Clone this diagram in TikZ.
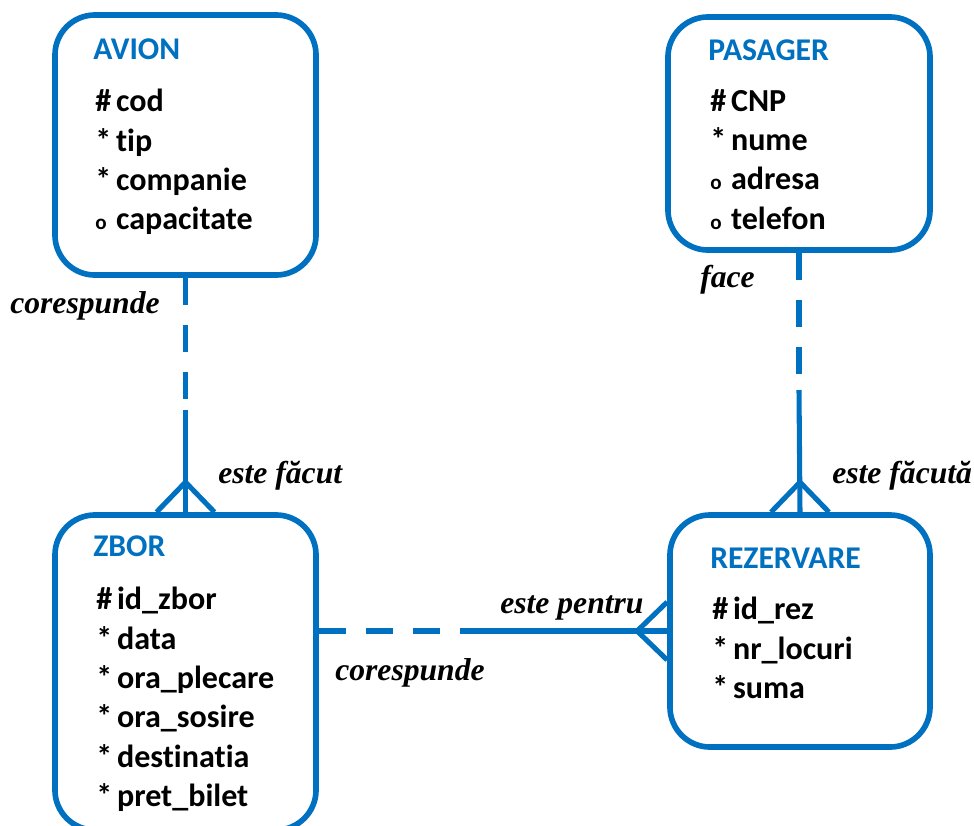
\documentclass[tikz,border=0pt]{standalone}
\usepackage{fontspec}
\setmainfont{Carlito}[Ligatures=NoCommon]
\newfontfamily\labelfont{Liberation Serif}
\usetikzlibrary{calc}
\definecolor{erblue}{HTML}{0070C0}
\newcommand{\mk}[1]{\makebox[0.52cm][l]{#1}}
\newcommand{\optmk}{\mk{{\fontsize{15}{15}\selectfont o}}}

\begin{document}
\begin{tikzpicture}[x=0.025cm, y=-0.025cm,
    entity/.style={draw=erblue, line width=4pt, rounded corners=1cm, inner sep=0pt},
    etitle/.style={anchor=base west, text=erblue, inner sep=0pt, font=\fontsize{22.5}{24}\selectfont\bfseries},
    attrs/.style={anchor=north west, align=left, inner sep=0pt, font=\fontsize{22.8}{28}\selectfont\bfseries},
    rel/.style={erblue, line width=3.6pt},
    optrel/.style={rel, dash pattern=on 0.675cm off 0.5cm},
    rlabel/.style={anchor=base west, inner sep=0pt, font=\fontsize{22.5}{24}\selectfont\labelfont\bfseries\itshape}]
    \useasboundingbox (0,0) rectangle (974,825);

    % entities
    \node[entity, minimum width=6.525cm, minimum height=6.5cm] (avion) at (185.5,145) {};
    \node[etitle] (avion title) at (93,59) {AVION};
    \node[attrs] (avion attrs) at (95,89) {\mk{\#}cod\\\mk{*}tip\\\mk{*}companie\\\optmk capacitate};

    \node[entity, minimum width=6.55cm, minimum height=5.825cm] (pasager) at (799,133.5) {};
    \node[etitle] (pasager title) at (708,60) {PASAGER};
    \node[attrs] (pasager attrs) at (710,89) {\mk{\#}CNP\\\mk{*}nume\\\optmk adresa\\\optmk telefon};

    \node[entity, minimum width=6.525cm, minimum height=7.875cm] (zbor) at (185.5,672.5) {};
    \node[etitle] (zbor title) at (93,556) {ZBOR};
    \node[attrs] (zbor attrs) at (96,587) {\mk{\#}id\_zbor\\\mk{*}data\\\mk{*}ora\_plecare\\\mk{*}ora\_sosire\\\mk{*}destinatia\\\mk{*}pret\_bilet};

    \node[entity, minimum width=6.5cm, minimum height=5.8cm] (rezervare) at (800,631) {};
    \node[etitle] (rezervare title) at (710,568) {REZERVARE};
    \node[attrs] (rezervare attrs) at (712,597) {\mk{\#}id\_rez\\\mk{*}nr\_locuri\\\mk{*}suma};

    % AVION - ZBOR
    \coordinate (m1) at (avion.south |- 0,410);
    \draw[optrel] (avion.south) -- (m1);
    \draw[rel] (m1) -- (zbor.north);
    \draw[rel] ($(zbor.north)+(-29,0)$) -- ($(zbor.north)+(0,-30)$) -- ($(zbor.north)+(29,0)$);
    \node[rlabel] (l1) at (10,313) {corespunde};
    \node[rlabel] (l2) at (218,483) {este făcut};

    % PASAGER - REZERVARE
    \coordinate (m2) at (pasager.south |- 0,390);
    \draw[optrel] (pasager.south) -- (m2);
    \draw[rel] (m2) -- (rezervare.north);
    \draw[rel] ($(rezervare.north)+(-29,0)$) -- ($(rezervare.north)+(0,-30)$) -- ($(rezervare.north)+(29,0)$);
    \node[rlabel] (l3) at (700,287) {face};
    \node[rlabel] (l4) at (832,483) {este făcută};

    % ZBOR - REZERVARE
    \coordinate (z1) at (zbor.east |- rezervare.west);
    \coordinate (m3) at (460,0 |- rezervare.west);
    \draw[optrel] (z1) -- (m3);
    \draw[rel] (m3) -- (rezervare.west);
    \draw[rel] ($(rezervare.west)+(0,-29)$) -- ($(rezervare.west)+(-30,0)$) -- ($(rezervare.west)+(0,29)$);
    \node[rlabel] (l5) at (500,613) {este pentru};
    \node[rlabel] (l6) at (335,680) {corespunde};
\end{tikzpicture}
\end{document}
